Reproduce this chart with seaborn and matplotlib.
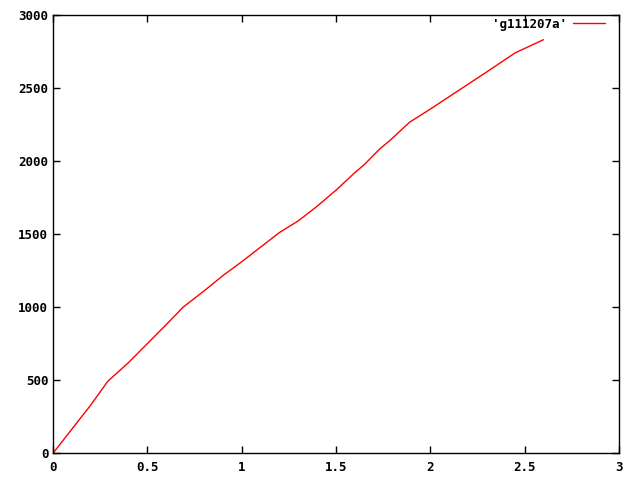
import pandas as pd
import seaborn as sns
from matplotlib import pyplot as plt

x_values = [0.0, 0.1, 0.2, 0.29, 0.4, 0.5, 0.6, 0.69, 0.8, 0.9, 1.0, 1.1, 1.2, 1.3,
            1.4, 1.5, 1.6, 1.65, 1.73, 1.79, 1.89, 2.0, 2.1, 2.2, 2.3, 2.45, 2.6]
y_values = [0, 165, 330, 492, 620, 750, 880, 1000, 1110, 1215, 1310, 1410, 1510, 1590,
            1690, 1800, 1920, 1975, 2080, 2145, 2265, 2355, 2440, 2525, 2610, 2740, 2830]
series_name = "'g111207a'"

df = pd.DataFrame({'x': x_values, 'y': y_values, 'series': series_name})

sns.set_style('ticks')
plt.rcParams['font.family'] = ['DejaVu Sans Mono']
plt.rcParams['font.weight'] = 'bold'
plt.rcParams['text.color'] = 'black'
plt.rcParams['xtick.color'] = 'black'
plt.rcParams['ytick.color'] = 'black'

fig = plt.figure(figsize=(6.4, 4.8), dpi=100)
ax = fig.add_axes([0.083, 0.056, 0.884, 0.913])

sns.lineplot(data=df, x='x', y='y', hue='series', palette=['red'], sort=False,
             linewidth=1, ax=ax)

ax.set_xlim(0, 3)
ax.set_ylim(0, 3000)
ax.set_xticks([0, 0.5, 1, 1.5, 2, 2.5, 3])
ax.set_xticklabels(['0', '0.5', '1', '1.5', '2', '2.5', '3'])
ax.set_yticks(range(0, 3001, 500))
ax.set_xlabel('')
ax.set_ylabel('')
ax.tick_params(direction='in', length=5, width=1, top=True, right=True,
               labelsize=9, colors='black')
ax.tick_params(axis='x', pad=6)
for spine in ax.spines.values():
    spine.set_visible(True)
    spine.set_linewidth(1)
    spine.set_color('black')

ax.legend(loc='upper right', frameon=False, markerfirst=False, fontsize=9,
          handlelength=2.6, handletextpad=0.5, borderaxespad=0.0,
          bbox_to_anchor=(0.985, 1.005))

plt.savefig('out.png', dpi=100)
